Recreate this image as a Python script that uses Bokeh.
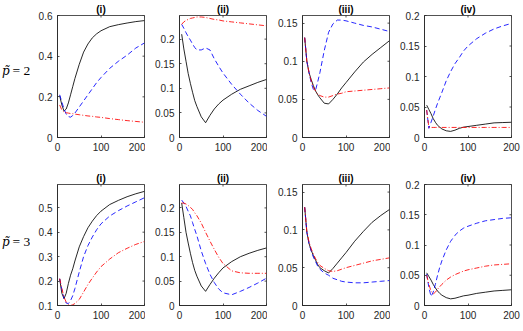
import math
from bokeh.plotting import figure
from bokeh.layouts import column, row
from bokeh.models import FixedTicker, CustomJSTickFormatter, Label, Range1d
from bokeh.embed import file_html
from bokeh.resources import INLINE

x_grid = [5, 10, 15, 20, 25, 30, 35, 40, 50, 60, 70, 80, 90, 100, 120, 140, 160, 180, 200]

# ---- row 1 : p~ = 2 ----
r1_i_black = [0.205, 0.16, 0.13, 0.14, 0.17, 0.21, 0.25, 0.29, 0.36, 0.42, 0.46, 0.49, 0.51, 0.525, 0.545, 0.555, 0.563, 0.57, 0.575]
r1_i_blue = [0.21, 0.175, 0.14, 0.115, 0.103, 0.10, 0.108, 0.12, 0.15, 0.18, 0.21, 0.24, 0.27, 0.295, 0.34, 0.375, 0.405, 0.44, 0.465]
r1_i_red = [0.16, 0.135, 0.125, 0.122, 0.12, 0.118, 0.117, 0.115, 0.112, 0.109, 0.106, 0.104, 0.101, 0.099, 0.093, 0.088, 0.083, 0.079, 0.075]

r1_ii_black = [0.21, 0.18, 0.155, 0.13, 0.11, 0.092, 0.075, 0.063, 0.042, 0.03, 0.045, 0.058, 0.068, 0.076, 0.088, 0.098, 0.105, 0.112, 0.118]
r1_ii_blue = [0.23, 0.222, 0.213, 0.205, 0.198, 0.19, 0.183, 0.178, 0.178, 0.182, 0.178, 0.16, 0.145, 0.131, 0.108, 0.088, 0.07, 0.055, 0.043]
r1_ii_red = [0.23, 0.235, 0.238, 0.24, 0.242, 0.243, 0.244, 0.245, 0.245, 0.244, 0.242, 0.240, 0.239, 0.237, 0.235, 0.233, 0.231, 0.229, 0.227]

r1_iii_black = [0.131, 0.1, 0.085, 0.076, 0.068, 0.061, 0.056, 0.052, 0.045, 0.044, 0.05, 0.057, 0.065, 0.072, 0.086, 0.099, 0.109, 0.118, 0.127]
r1_iii_blue = [0.131, 0.1, 0.085, 0.072, 0.063, 0.062, 0.073, 0.085, 0.114, 0.138, 0.149, 0.154, 0.154, 0.153, 0.15, 0.147, 0.145, 0.142, 0.139]
r1_iii_red = [0.131, 0.1, 0.085, 0.074, 0.066, 0.061, 0.057, 0.055, 0.053, 0.053, 0.055, 0.057, 0.058, 0.06, 0.061, 0.062, 0.063, 0.064, 0.065]

r1_iv_black = [0.053, 0.046, 0.039, 0.031, 0.025, 0.02, 0.017, 0.014, 0.011, 0.01, 0.012, 0.015, 0.017, 0.018, 0.02, 0.022, 0.024, 0.0245, 0.025]
r1_iv_blue = [0.045, 0.015, 0.025, 0.035, 0.046, 0.056, 0.065, 0.074, 0.093, 0.108, 0.121, 0.131, 0.142, 0.15, 0.162, 0.171, 0.178, 0.183, 0.187]
r1_iv_red = [0.045, 0.017, 0.0165, 0.0165, 0.0165, 0.0165, 0.0165, 0.0165, 0.0165, 0.0165, 0.0165, 0.0165, 0.0165, 0.0165, 0.0165, 0.0165, 0.0165, 0.0165, 0.0165]

# ---- row 2 : p~ = 3 ----
r2_i_black = [0.208, 0.15, 0.128, 0.15, 0.19, 0.224, 0.25, 0.282, 0.34, 0.382, 0.418, 0.445, 0.468, 0.486, 0.513, 0.53, 0.545, 0.557, 0.567]
r2_i_blue = [0.21, 0.165, 0.13, 0.11, 0.108, 0.12, 0.14, 0.169, 0.237, 0.3, 0.345, 0.38, 0.41, 0.434, 0.466, 0.488, 0.507, 0.524, 0.541]
r2_i_red = [0.21, 0.17, 0.134, 0.114, 0.104, 0.1, 0.103, 0.108, 0.125, 0.155, 0.186, 0.212, 0.237, 0.259, 0.29, 0.316, 0.334, 0.35, 0.362]

r2_ii_black = [0.21, 0.18, 0.15, 0.128, 0.107, 0.088, 0.072, 0.06, 0.04, 0.029, 0.043, 0.056, 0.067, 0.077, 0.09, 0.1, 0.107, 0.113, 0.118]
r2_ii_blue = [0.216, 0.21, 0.203, 0.193, 0.184, 0.17, 0.156, 0.143, 0.112, 0.086, 0.064, 0.047, 0.034, 0.026, 0.022, 0.029, 0.037, 0.046, 0.056]
r2_ii_red = [0.21, 0.21, 0.208, 0.205, 0.201, 0.197, 0.19, 0.184, 0.169, 0.15, 0.132, 0.115, 0.099, 0.086, 0.071, 0.067, 0.066, 0.066, 0.066]

r2_iii_black = [0.13, 0.097, 0.082, 0.073, 0.066, 0.06, 0.054, 0.05, 0.046, 0.043, 0.049, 0.056, 0.063, 0.07, 0.085, 0.098, 0.11, 0.119, 0.127]
r2_iii_blue = [0.13, 0.097, 0.082, 0.072, 0.064, 0.058, 0.052, 0.048, 0.043, 0.04, 0.036, 0.034, 0.032, 0.031, 0.03, 0.03, 0.031, 0.032, 0.033]
r2_iii_red = [0.13, 0.098, 0.084, 0.075, 0.068, 0.062, 0.057, 0.053, 0.049, 0.046, 0.045, 0.046, 0.048, 0.05, 0.053, 0.056, 0.059, 0.061, 0.063]

r2_iv_black = [0.054, 0.048, 0.042, 0.035, 0.029, 0.024, 0.02, 0.017, 0.013, 0.011, 0.012, 0.014, 0.016, 0.017, 0.02, 0.022, 0.024, 0.025, 0.026]
r2_iv_blue = [0.052, 0.03, 0.015, 0.022, 0.035, 0.05, 0.063, 0.074, 0.092, 0.106, 0.116, 0.123, 0.128, 0.131, 0.136, 0.14, 0.142, 0.144, 0.145]
r2_iv_red = [0.05, 0.035, 0.024, 0.019, 0.022, 0.027, 0.031, 0.035, 0.042, 0.047, 0.051, 0.054, 0.057, 0.059, 0.062, 0.065, 0.067, 0.068, 0.069]

panel_titles = ["(i)", "(ii)", "(iii)", "(iv)"]
row_label_values = ["2", "3"]
x_ticks = [0, 100, 200]
x_limits = (0, 200)
r1_ylims = [(0, 0.6), (0, 0.248), (0, 0.16), (0, 0.2)]
r1_yticks = [[0, 0.2, 0.4, 0.6], [0, 0.05, 0.1, 0.15, 0.2], [0, 0.05, 0.1, 0.15], [0, 0.05, 0.1, 0.15, 0.2]]
r2_ylims = [(0.1, 0.595), (0, 0.248), (0, 0.16), (0, 0.2)]
r2_yticks = [[0.1, 0.2, 0.3, 0.4, 0.5], [0, 0.05, 0.1, 0.15, 0.2], [0, 0.05, 0.1, 0.15], [0, 0.05, 0.1, 0.15, 0.2]]

rows_data = [
    [(r1_i_black, r1_i_blue, r1_i_red), (r1_ii_black, r1_ii_blue, r1_ii_red),
     (r1_iii_black, r1_iii_blue, r1_iii_red), (r1_iv_black, r1_iv_blue, r1_iv_red)],
    [(r2_i_black, r2_i_blue, r2_i_red), (r2_ii_black, r2_ii_blue, r2_ii_red),
     (r2_iii_black, r2_iii_blue, r2_iii_red), (r2_iv_black, r2_iv_blue, r2_iv_red)],
]

AX = "#262626"
TICK_FONT = "Liberation Sans"
FMT = CustomJSTickFormatter(code="return String(Number(tick.toFixed(3)));")

# layout geometry (pixels)
label_col_w = 30
left_borders = [27, 34, 35, 34]
right_borders = [1, 1, 1, 12]
frame_w = 87
row_top = [15, 19]
row_frame_h = [122, 121]
row_bottom = [28, 26]
TICK_LEN = 2
LW = 0.85


def style_axis(ax):
    ax.axis_line_color = AX
    ax.axis_line_width = 0.8
    ax.major_tick_line_color = AX
    ax.major_tick_line_width = 0.8
    ax.major_tick_in = TICK_LEN
    ax.major_tick_out = 0
    ax.minor_tick_line_color = None
    ax.major_label_text_font = TICK_FONT
    ax.major_label_text_color = AX
    ax.major_label_text_font_size = "10px"
    ax.major_label_standoff = 5


def make_row_label(r):
    h = row_top[r] + row_frame_h[r] + row_bottom[r]
    p = figure(width=label_col_w, height=h, output_backend="svg", toolbar_location=None,
               x_range=Range1d(0, label_col_w), y_range=Range1d(0, h),
               min_border_left=0, min_border_right=0, min_border_top=0, min_border_bottom=0)
    p.axis.visible = False
    p.grid.visible = False
    p.outline_line_color = None
    p.border_fill_color = "white"
    yc = h - (row_top[r] + row_frame_h[r] / 2) + 1
    p.add_layout(Label(x=1.5, y=yc, text="p\u0303",
                       text_font="DejaVu Serif", text_font_style="italic",
                       text_font_size="12px", text_baseline="middle", text_color="black"))
    p.add_layout(Label(x=12.0, y=yc, text="= " + row_label_values[r],
                       text_font="Liberation Serif", text_font_size="13.5px",
                       text_baseline="middle", text_color="black"))
    return p


def make_panel(r, c, series, ylim, yticks):
    w = left_borders[c] + frame_w + right_borders[c]
    h = row_top[r] + row_frame_h[r] + row_bottom[r]
    p = figure(width=w, height=h, output_backend="svg", toolbar_location=None,
               x_range=Range1d(*x_limits), y_range=Range1d(*ylim),
               min_border_left=left_borders[c], min_border_right=right_borders[c],
               min_border_top=row_top[r], min_border_bottom=row_bottom[r],
               title=panel_titles[c])
    p.title.align = "center"
    p.title.text_font = TICK_FONT
    p.title.text_font_size = "10px"
    p.title.text_font_style = "bold"
    p.title.text_color = "#000000"
    p.title.standoff = 1
    p.title.offset = 0
    p.xgrid.visible = False
    p.ygrid.visible = False
    p.outline_line_color = AX
    p.outline_line_width = 0.8
    p.background_fill_color = "white"
    p.border_fill_color = "white"

    p.xaxis.ticker = FixedTicker(ticks=x_ticks)
    p.yaxis.ticker = FixedTicker(ticks=yticks)
    p.xaxis.formatter = FMT
    p.yaxis.formatter = FMT
    style_axis(p.xaxis[0])
    style_axis(p.yaxis[0])

    # inward ticks on the top and right edges of the box (half of each dash is clipped away)
    p.scatter(x_ticks, [ylim[1]] * len(x_ticks), marker="dash", size=2 * TICK_LEN,
              angle=math.pi / 2, line_color=AX, line_width=0.8)
    p.scatter([x_limits[1]] * len(yticks), yticks, marker="dash", size=2 * TICK_LEN,
              line_color=AX, line_width=0.8)

    black, blue, red = series
    p.line(x_grid, black, line_color="black", line_width=LW)
    p.line(x_grid, blue, line_color="blue", line_width=LW, line_dash="5 3")
    p.line(x_grid, red, line_color="red", line_width=LW, line_dash="5 2 1 2")
    return p


rows = []
for r in range(2):
    lims = r1_ylims if r == 0 else r2_ylims
    ticks = r1_yticks if r == 0 else r2_yticks
    figs = [make_row_label(r)] + [make_panel(r, c, rows_data[r][c], lims[c], ticks[c]) for c in range(4)]
    rows.append(row(*figs))

layout = column(*rows)
open("out.html", "w").write(file_html(layout, INLINE))
